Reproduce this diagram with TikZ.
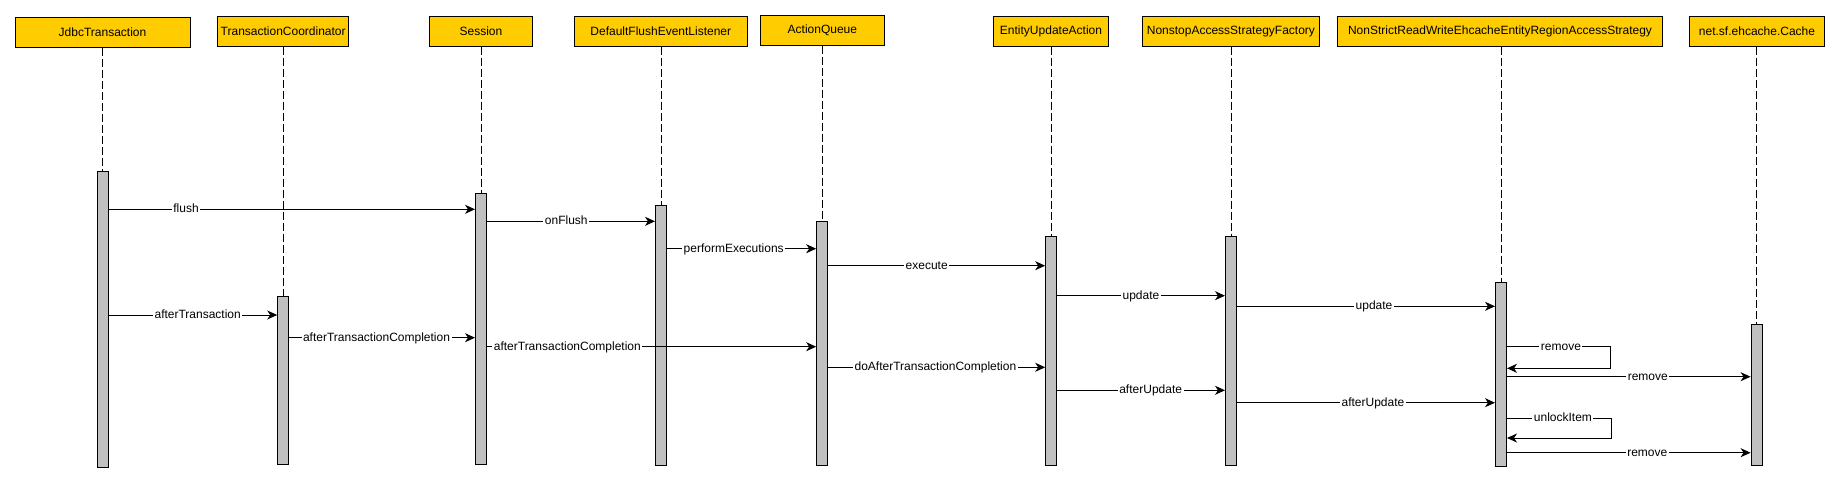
\documentclass[tikz,border=0pt]{standalone}
\usepackage{fontspec}
\setmainfont{Liberation Sans}
\usetikzlibrary{arrows.meta}
\definecolor{hdr}{HTML}{FFCC00}
\definecolor{actfill}{HTML}{C0C0C0}
\tikzset{
  hdrbox/.style={draw=black, line width=1pt, fill=hdr, minimum height=30pt, inner sep=0pt, font=\fontsize{12}{14}\selectfont},
  actbox/.style={draw=black, line width=1pt, fill=actfill, minimum width=11pt, inner sep=0pt},
  life/.style={line width=0.9pt, dash pattern=on 8pt off 3pt},
  msg/.style={line width=1pt, -{Stealth[length=10pt,width=9pt,inset=3pt]}},
  lbl/.style={fill=white, inner sep=1.5pt, outer sep=0pt, font=\fontsize{12}{14}\selectfont, text height=0.72em, text depth=0.22em, yshift=-1pt}
}
\begin{document}
\begin{tikzpicture}[x=1pt,y=-1pt]
\useasboundingbox (0,0) rectangle (1840,483);
% headers
\node[hdrbox, minimum width=175pt]   (h1) at (102.5,32.3)  {JdbcTransaction};
\node[hdrbox, minimum width=131.3pt] (h2) at (283.2,31.15) {TransactionCoordinator};
\node[hdrbox, minimum width=103.2pt] (h3) at (481,31.15)   {Session};
\node[hdrbox, minimum width=173.4pt] (h4) at (660.8,31.15) {DefaultFlushEventListener};
\node[hdrbox, minimum width=124.6pt] (h5) at (822.4,30.15) {ActionQueue};
\node[hdrbox, minimum width=115.1pt] (h6) at (1051,31.15)  {EntityUpdateAction};
\node[hdrbox, minimum width=177.5pt] (h7) at (1230.9,31.15) {NonstopAccessStrategyFactory};
\node[hdrbox, minimum width=325.1pt] (h8) at (1500,31.15)  {NonStrictReadWriteEhcacheEntityRegionAccessStrategy};
\node[hdrbox, minimum width=135.2pt] (h9) at (1757,31.15)  {net.sf.ehcache.Cache};
% lifeline x positions
\coordinate (c1) at (102.8,0);
\coordinate (c2) at (283.2,0);
\coordinate (c3) at (481,0);
\coordinate (c4) at (661,0);
\coordinate (c5) at (822.2,0);
\coordinate (c6) at (1051.2,0);
\coordinate (c7) at (1231,0);
\coordinate (c8) at (1501,0);
\coordinate (c9) at (1756.6,0);
% lifelines
\draw[life] (c1 |- h1.south) -- (c1 |- 0,300);
\draw[life] (c2 |- h2.south) -- (c2 |- 0,300);
\draw[life] (c3 |- h3.south) -- (c3 |- 0,300);
\draw[life] (c4 |- h4.south) -- (c4 |- 0,300);
\draw[life] (c5 |- h5.south) -- (c5 |- 0,300);
\draw[life] (c6 |- h6.south) -- (c6 |- 0,300);
\draw[life] (c7 |- h7.south) -- (c7 |- 0,300);
\draw[life] (c8 |- h8.south) -- (c8 |- 0,300);
\draw[life] (c9 |- h9.south) -- (c9 |- 0,340);
% activations
\node[actbox, minimum height=296pt]   (a1) at (102.8,319.3)  {};
\node[actbox, minimum height=168pt]   (a2) at (283.2,380)    {};
\node[actbox, minimum height=270.7pt] (a3) at (481,328.65)   {};
\node[actbox, minimum height=259.7pt] (a4) at (661,335.15)   {};
\node[actbox, minimum height=244pt]   (a5) at (822.2,343)    {};
\node[actbox, minimum height=228.7pt] (a6) at (1051.2,350.65) {};
\node[actbox, minimum height=228.7pt] (a7) at (1231,350.65)  {};
\node[actbox, minimum height=183.7pt] (a8) at (1501,374.15)  {};
\node[actbox, minimum height=140.7pt] (a9) at (1756.6,394.65) {};
% messages
\draw[msg] (a1.east |- 0,209.3) -- node[lbl, pos=0.211] {flush} (a3.west |- 0,209.3);
\draw[msg] (a3.east |- 0,221.3) -- node[lbl, pos=0.472] {onFlush} (a4.west |- 0,221.3);
\draw[msg] (a4.east |- 0,248.7) -- node[lbl, pos=0.447] {performExecutions} (a5.west |- 0,248.7);
\draw[msg] (a5.east |- 0,265.7) -- node[lbl, pos=0.454] {execute} (a6.west |- 0,265.7);
\draw[msg] (a6.east |- 0,295.7) -- node[lbl, pos=0.499] {update} (a7.west |- 0,295.7);
\draw[msg] (a7.east |- 0,306.3) -- node[lbl, pos=0.531] {update} (a8.west |- 0,306.3);
\draw[msg] (a1.east |- 0,315) -- node[lbl, pos=0.528] {afterTransaction} (a2.west |- 0,315);
\draw[msg] (a2.east |- 0,337.7) -- node[lbl, pos=0.47] {afterTransactionCompletion} (a3.west |- 0,337.7);
\draw[msg] (a3.east |- 0,346.7) -- node[lbl, pos=0.244] {afterTransactionCompletion} (a5.west |- 0,346.7);
\draw[msg] (a8.east |- 0,346.7) -- node[lbl, pos=0.52] {remove} (1610.7,346.7) -- (1610.7,368.3) -- (a8.east |- 0,368.3);
\draw[msg] (a5.east |- 0,367.3) -- node[lbl, pos=0.494] {doAfterTransactionCompletion} (a6.west |- 0,367.3);
\draw[msg] (a8.east |- 0,376.7) -- node[lbl, pos=0.578] {remove} (a9.west |- 0,376.7);
\draw[msg] (a6.east |- 0,390.3) -- node[lbl, pos=0.557] {afterUpdate} (a7.west |- 0,390.3);
\draw[msg] (a7.east |- 0,402.7) -- node[lbl, pos=0.527] {afterUpdate} (a8.west |- 0,402.7);
\draw[msg] (a8.east |- 0,418.3) -- node[lbl, pos=0.535] {unlockItem} (1611.5,418.3) -- (1611.5,438) -- (a8.east |- 0,438);
\draw[msg] (a8.east |- 0,452.7) -- node[lbl, pos=0.576] {remove} (a9.west |- 0,452.7);
\end{tikzpicture}
\end{document}
